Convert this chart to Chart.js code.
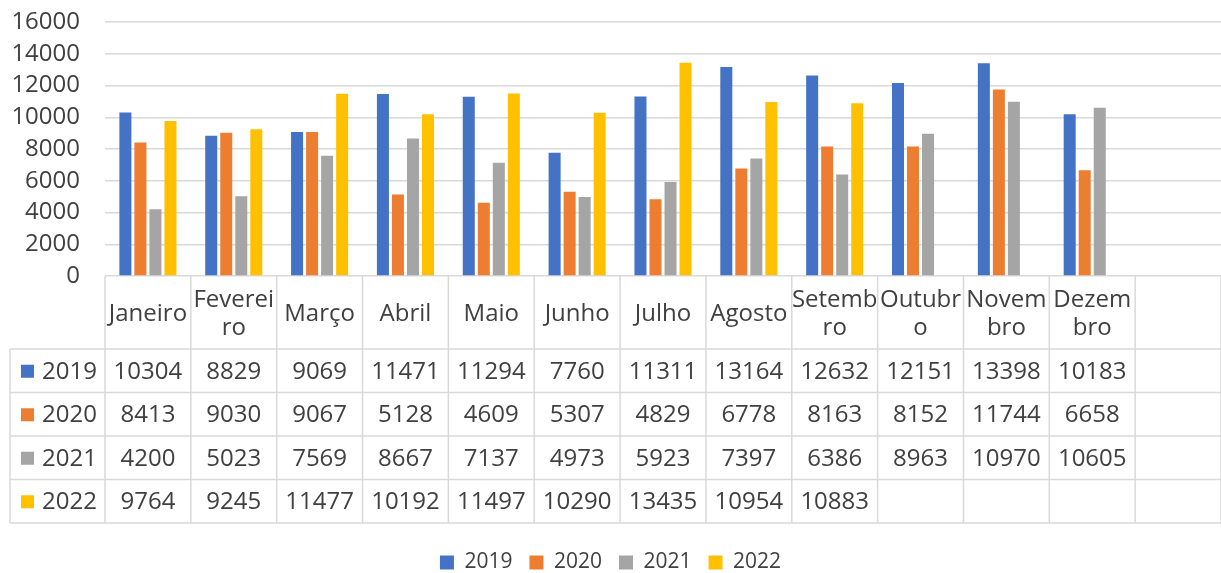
<!DOCTYPE html>
<html>
<head>
<meta charset="utf-8">
<script src="https://cdn.jsdelivr.net/npm/chart.js@4.4.0/dist/chart.umd.min.js"></script>
<style>
html,body{margin:0;padding:0;background:#fff;}
canvas{display:block;}
</style>
</head>
<body>
<canvas id="c" width="1221" height="573"></canvas>
<script>
const categories = ['Janeiro', ['Feverei','ro'], 'Março', 'Abril', 'Maio', 'Junho', 'Julho', 'Agosto', ['Setemb','ro'], ['Outubr','o'], ['Novem','bro'], ['Dezem','bro'], ''];
const seriesNames = ['2019', '2020', '2021', '2022'];
const s2019 = [10304, 8829, 9069, 11471, 11294, 7760, 11311, 13164, 12632, 12151, 13398, 10183, null];
const s2020 = [8413, 9030, 9067, 5128, 4609, 5307, 4829, 6778, 8163, 8152, 11744, 6658, null];
const s2021 = [4200, 5023, 7569, 8667, 7137, 4973, 5923, 7397, 6386, 8963, 10970, 10605, null];
const s2022 = [9764, 9245, 11477, 10192, 11497, 10290, 13435, 10954, 10883, null, null, null, null];
const colors = ['#4472C4', '#ED7D31', '#A5A5A5', '#FFC000'];
const yTicks = [0, 2000, 4000, 6000, 8000, 10000, 12000, 14000, 16000];

const allSeries = [s2019, s2020, s2021, s2022];
const FONT = "'Open Sans', 'Noto Sans', sans-serif";
const TEXT = '#404040';
const GRID = '#D9D9D9';

const tablePlugin = {
  id: 'dataTable',
  afterDraw(chart) {
    const ctx = chart.ctx;
    const x = chart.scales.x;
    const area = chart.chartArea;
    const n = categories.length;
    const colW = (area.right - area.left) / n;
    const top = area.bottom;
    const headerH = 73;
    const rowH = 43.5;
    const legendLeft = 10;
    const bottom = top + headerH + rowH * allSeries.length;
    ctx.save();
    ctx.strokeStyle = GRID;
    ctx.lineWidth = 1.5;
    for (let i = 0; i <= n; i++) {
      const px = x.getPixelForValue(i) - colW / 2;
      ctx.beginPath();
      ctx.moveTo(px, top);
      ctx.lineTo(px, bottom);
      ctx.stroke();
    }
    ctx.beginPath();
    ctx.moveTo(legendLeft, top + headerH);
    ctx.lineTo(legendLeft, bottom);
    ctx.stroke();
    for (let r = 0; r <= allSeries.length; r++) {
      const py = top + headerH + r * rowH;
      ctx.beginPath();
      ctx.moveTo(legendLeft, py);
      ctx.lineTo(area.right, py);
      ctx.stroke();
    }
    ctx.fillStyle = TEXT;
    ctx.font = '24px ' + FONT;
    ctx.textAlign = 'center';
    ctx.textBaseline = 'middle';
    categories.forEach((c, i) => {
      const cx = x.getPixelForValue(i);
      const cy = top + headerH / 2;
      if (Array.isArray(c)) {
        ctx.fillText(c[0], cx, cy - 12);
        ctx.fillText(c[1], cx, cy + 16);
      } else {
        ctx.fillText(c, cx, cy + 2);
      }
    });
    allSeries.forEach((s, r) => {
      const cy = top + headerH + r * rowH + rowH / 2 + 1;
      ctx.fillStyle = colors[r];
      ctx.fillRect(legendLeft + 11, cy - 7, 13, 13);
      ctx.fillStyle = TEXT;
      ctx.textAlign = 'left';
      ctx.fillText(seriesNames[r], legendLeft + 32, cy);
      ctx.textAlign = 'center';
      s.forEach((v, i) => {
        if (v !== null) ctx.fillText(String(v), x.getPixelForValue(i), cy);
      });
    });
    ctx.restore();
  }
};

new Chart(document.getElementById('c'), {
  type: 'bar',
  data: {
    labels: categories,
    datasets: allSeries.map((s, i) => ({
      label: seriesNames[i],
      data: s,
      backgroundColor: colors[i],
      barPercentage: 0.8,
      categoryPercentage: 0.7
    }))
  },
  options: {
    responsive: false,
    animation: false,
    layout: { padding: { top: 22, left: 0, right: 0, bottom: -10 } },
    plugins: {
      tooltip: { enabled: false },
      legend: {
        position: 'bottom',
        labels: {
          font: { size: 21, family: FONT },
          color: TEXT,
          boxWidth: 14,
          boxHeight: 14,
          padding: 17
        }
      }
    },
    scales: {
      x: {
        grid: { display: false },
        border: { display: false },
        ticks: { display: false },
        afterFit(scale) { scale.height = 259; }
      },
      y: {
        min: 0,
        max: 16000,
        afterBuildTicks(scale) { scale.ticks = yTicks.map(v => ({ value: v })); },
        ticks: {
          font: { size: 24, family: FONT },
          color: TEXT,
          padding: 0,
          autoSkip: false,
          callback: (v) => String(v)
        },
        grid: { color: GRID, lineWidth: 1.5, drawTicks: true, tickLength: 25, tickColor: 'rgba(0,0,0,0)' },
        border: { display: false },
        afterFit(scale) { scale.width = 105; }
      }
    }
  },
  plugins: [tablePlugin]
});
</script>
</body>
</html>
